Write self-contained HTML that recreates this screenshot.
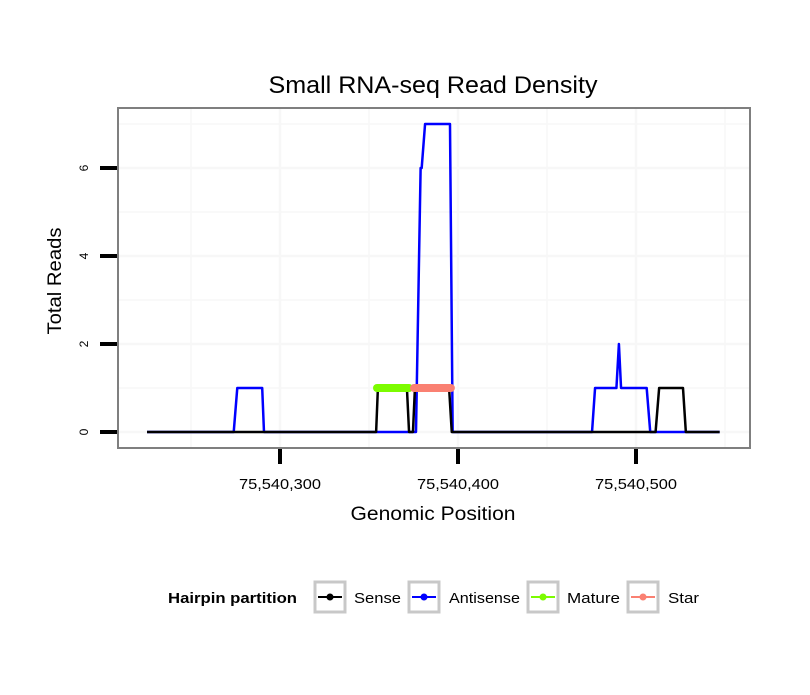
<!DOCTYPE html>
<html><head><meta charset="utf-8"><style>
body{margin:0;background:#fff;font-family:"Liberation Sans",sans-serif}
</style></head><body>
<svg width="810" height="690" xmlns="http://www.w3.org/2000/svg" font-family="Liberation Sans, sans-serif">
<rect width="810" height="690" fill="#fff"/>
<text x="433" y="93" font-size="24" text-anchor="middle" textLength="329" lengthAdjust="spacingAndGlyphs">Small RNA-seq Read Density</text>
<g id="grid"></g>
<g id="series"></g>
<rect x="118" y="108" width="632" height="340" fill="none" stroke="#7f7f7f" stroke-width="2"/>
<g id="axes"></g>
<text x="433" y="520" font-size="19" text-anchor="middle" textLength="165" lengthAdjust="spacingAndGlyphs">Genomic Position</text>
<text transform="translate(61,281) rotate(-90)" font-size="19" text-anchor="middle" textLength="107" lengthAdjust="spacingAndGlyphs">Total Reads</text>
<g font-size="15">
<text x="168" y="603" font-weight="bold" textLength="129" lengthAdjust="spacingAndGlyphs">Hairpin partition</text>
<g><rect x="315" y="582" width="30" height="30" fill="#fff" stroke="#c8c8c8" stroke-width="3"/><line x1="318" y1="597" x2="342" y2="597" stroke="#000" stroke-width="2"/><circle cx="330" cy="597" r="3.5" fill="#000"/><text x="354" y="603" textLength="47" lengthAdjust="spacingAndGlyphs">Sense</text></g>
<g><rect x="409" y="582" width="30" height="30" fill="#fff" stroke="#c8c8c8" stroke-width="3"/><line x1="412" y1="597" x2="436" y2="597" stroke="#0000ff" stroke-width="2"/><circle cx="424" cy="597" r="3.5" fill="#0000ff"/><text x="449" y="603" textLength="71" lengthAdjust="spacingAndGlyphs">Antisense</text></g>
<g><rect x="528" y="582" width="30" height="30" fill="#fff" stroke="#c8c8c8" stroke-width="3"/><line x1="531" y1="597" x2="555" y2="597" stroke="#7cfc00" stroke-width="2"/><circle cx="543" cy="597" r="3.5" fill="#7cfc00"/><text x="567" y="603" textLength="53" lengthAdjust="spacingAndGlyphs">Mature</text></g>
<g><rect x="628" y="582" width="30" height="30" fill="#fff" stroke="#c8c8c8" stroke-width="3"/><line x1="631" y1="597" x2="655" y2="597" stroke="#fa8072" stroke-width="2"/><circle cx="643" cy="597" r="3.5" fill="#fa8072"/><text x="668" y="603" textLength="31" lengthAdjust="spacingAndGlyphs">Star</text></g>
</g>
</svg>
<script>
const senseX=[225.3,354,355,371.3,372.5,374.7,375.8,395,396.5,511,513,526.4,528,547];
const senseY=[0,0,1,1,0,0,1,1,0,0,1,1,0,0];
const antiX=[225.3,274,276,290,291,376.4,379,379.6,381.5,395.5,397,475.3,477,489,490.4,491.6,506,508,547];
const antiY=[0,0,1,1,0,0,6,6,7,7,0,0,1,1,2,1,1,0,0];
const matureX=[354.5,372.5];const matureY=[1,1];
const starX=[375.3,396];const starY=[1,1];
const xTicks=[300,400,500];const xTickLabels=["75,540,300","75,540,400","75,540,500"];
const yTicks=[0,2,4,6];
const xs=v=>280+(v-300)*1.78, ys=r=>432-44*r;
const NS="http://www.w3.org/2000/svg";
function mk(t,a,p){const e=document.createElementNS(NS,t);for(const k in a)e.setAttribute(k,a[k]);p.appendChild(e);return e;}
const grid=document.getElementById('grid');
for(let v=250;v<=725/1.78+300;v+=50){if(xs(v)>118&&xs(v)<750){const l=mk('line',{x1:xs(v),x2:xs(v),y1:109,y2:447,stroke:'#f7f7f7','stroke-width':v%100===0?2.5:1.5},grid);}}
for(let r=0;r<=7;r++){const l=mk('line',{x1:119,x2:749,y1:ys(r),y2:ys(r),stroke:'#f7f7f7','stroke-width':r%2===0?2.5:1.5},grid);}
const ser=document.getElementById('series');
function line(X,Y,col,w,name,cap){const p=mk('polyline',{points:X.map((x,i)=>xs(x)+','+ys(Y[i])).join(' '),fill:'none',stroke:col,'stroke-width':w,'stroke-linejoin':'round','stroke-linecap':cap||'butt'},ser);}
line(antiX,antiY,'#0000ff',2.5,'antisense-line');
line(senseX,senseY,'#000',2.5,'sense-line');
line(matureX,matureY,'#7cfc00',8,'mature-line','round');
line(starX,starY,'#fa8072',8,'star-line','round');
const ax=document.getElementById('axes');
xTicks.forEach((v,i)=>{const t=mk('line',{x1:xs(v),x2:xs(v),y1:449,y2:464,stroke:'#000','stroke-width':4},ax);
const tx=mk('text',{x:xs(v),y:489,'font-size':15,'text-anchor':'middle',textLength:82,lengthAdjust:'spacingAndGlyphs'},ax);tx.textContent=xTickLabels[i];});
yTicks.forEach(r=>{const t=mk('line',{x1:100,x2:117,y1:ys(r),y2:ys(r),stroke:'#000','stroke-width':4},ax);
const tx=mk('text',{transform:`translate(88,${ys(r)}) rotate(-90)`,'font-size':12,'text-anchor':'middle'},ax);tx.textContent=r;});
</script>
</body></html>
